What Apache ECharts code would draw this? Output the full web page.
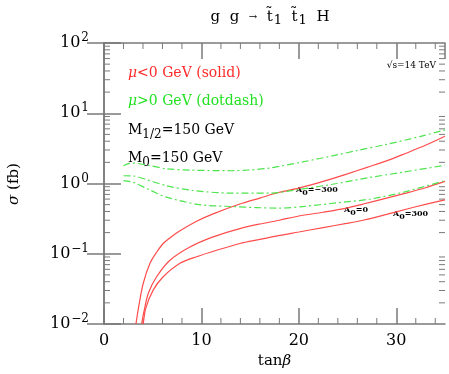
<!DOCTYPE html>
<html lang="en">
<head>
  <meta charset="UTF-8">
  <title>gg -> stop stop H</title>
  <style>
    html, body { margin: 0; padding: 0; background: #fff; }
    .chart { width: 449px; height: 374px; }
  </style>
</head>
<body>
  <div class="chart"></div>
  <script src="https://cdn.jsdelivr.net/npm/echarts@6/dist/echarts.min.js"></script>
  <script>
    // mu < 0 (solid, red), A0 = -300 / 0 / 300
    let tanbRedA = [3.28, 3.6, 4.03, 4.72, 5.4, 6.08, 7.0, 7.8, 9.5, 11.2, 13.95, 16, 18, 20, 22.5, 24.9, 27, 29, 31, 33, 35];
    let sigRedA = [0.01, 0.019, 0.038, 0.073, 0.105, 0.14, 0.178, 0.212, 0.29, 0.37, 0.51, 0.62, 0.75, 0.86, 1.07, 1.36, 1.7, 2.1, 2.7, 3.5, 4.7];
    let tanbRedB = [3.86, 4.1, 4.55, 5.4, 6.77, 8.82, 11.2, 13.95, 16, 18, 20, 22.5, 24.9, 26.6, 29, 31, 33, 35];
    let sigRedB = [0.01, 0.015, 0.0274, 0.047, 0.081, 0.125, 0.174, 0.228, 0.265, 0.30, 0.345, 0.39, 0.446, 0.51, 0.62, 0.73, 0.87, 1.07];
    let tanbRedC = [4.03, 4.3, 5.06, 6.08, 7.8, 9.5, 11.55, 13.95, 16, 18.05, 20, 22.5, 24.9, 26.6, 29, 31, 33, 35];
    let sigRedC = [0.01, 0.017, 0.0306, 0.047, 0.073, 0.0906, 0.112, 0.14, 0.16, 0.183, 0.204, 0.236, 0.27, 0.30, 0.363, 0.43, 0.505, 0.585];

    // mu > 0 (dotdash, green)
    let tanbGrnA = [2, 2.5, 3, 4.5, 6.4, 9, 13, 15, 17, 20.4, 23.9, 26, 29, 32.4, 35];
    let sigGrnA = [1.79, 1.92, 1.95, 1.82, 1.62, 1.55, 1.52, 1.56, 1.66, 2.03, 2.55, 2.95, 3.61, 4.65, 5.8];
    let tanbGrnB = [2, 3, 4.5, 6.4, 9, 13, 17, 20.4, 23.9, 27.3, 30.7, 35];
    let sigGrnB = [1.29, 1.28, 1.12, 0.93, 0.80, 0.73, 0.73, 0.84, 1.0, 1.22, 1.45, 1.82];
    let tanbGrnC = [2, 3, 4.7, 6.4, 9.8, 13.2, 18, 20.4, 23.9, 27.3, 30.7, 35];
    let sigGrnC = [1.10, 1.04, 0.81, 0.64, 0.50, 0.47, 0.446, 0.47, 0.53, 0.60, 0.75, 1.10];

    let xMinorTicks = [2, 4, 6, 8, 12, 14, 16, 18, 22, 24, 26, 28, 32, 34];
    let yMinorTicks = [];
    [0.01, 0.1, 1, 10].forEach(d => {
      for (let k = 2; k <= 9; k++) yMinorTicks.push(+(d * k).toPrecision(3));
    });

    const SERIF = '"DejaVu Serif", serif';
    const RED = '#ff4c4c';
    const GREEN = '#4ee44e';
    const AXIS = '#7a7a7a';

    let myChart = echarts.init(document.querySelector('.chart'));

    function pairs(xs, ys) {
      return xs.map((x, i) => [x, ys[i]]);
    }

    function curve(xs, ys, color, dotdash) {
      return {
        type: 'line',
        data: pairs(xs, ys),
        showSymbol: false,
        smooth: 0.3,
        silent: true,
        lineStyle: { color: color, width: 1.2, type: dotdash ? [7, 3, 2, 3] : 'solid' }
      };
    }

    let tickLine = (x1, y1, x2, y2) => ({
      type: 'line',
      shape: { x1, y1, x2, y2 },
      style: { stroke: AXIS, lineWidth: 1 }
    });

    let option = {
      animation: false,
      grid: { left: 104, right: 4, top: 43, bottom: 48 },
      xAxis: [
        {
          type: 'value', min: 0, max: 35, interval: 10,
          axisLine: { lineStyle: { color: AXIS, width: 1.5 } },
          axisTick: { inside: true, length: 16, lineStyle: { color: AXIS, width: 1.5 } },
          axisLabel: { showMaxLabel: false, margin: 9, color: '#000', fontFamily: SERIF, fontSize: 16 },
          splitLine: { show: false },
          name: '{n|tan}{i|β}', nameLocation: 'middle', nameGap: 30,
          nameTextStyle: {
            rich: {
              n: { fontFamily: SERIF, fontSize: 15, color: '#000' },
              i: { fontFamily: SERIF, fontSize: 15, fontStyle: 'italic', color: '#000' }
            }
          }
        },
        {
          type: 'value', min: 0, max: 35, interval: 10, position: 'top',
          axisLine: { lineStyle: { color: AXIS, width: 1.5 } },
          axisTick: { inside: true, length: 16, lineStyle: { color: AXIS, width: 1.5 } },
          axisLabel: { show: false },
          splitLine: { show: false }
        }
      ],
      yAxis: [
        {
          type: 'log', logBase: 10, min: 0.01, max: 100,
          axisLine: { lineStyle: { color: AXIS, width: 1.5 } },
          axisTick: { inside: true, length: 17, lineStyle: { color: AXIS, width: 1.5 } },
          splitLine: { show: false },
          axisLabel: {
            margin: 15, color: '#000',
            formatter: v => '{b|10}{s|' + String(Math.round(Math.log10(v))).replace('-', '−') + '}',
            rich: {
              b: { fontFamily: SERIF, fontSize: 16, color: '#000' },
              s: { fontFamily: SERIF, fontSize: 12, color: '#000', padding: [0, 0, 10, 1] }
            }
          }
        },
        {
          type: 'log', logBase: 10, min: 0.01, max: 100, position: 'right',
          axisLine: { lineStyle: { color: AXIS, width: 1.5 } },
          axisTick: { inside: true, length: 17, lineStyle: { color: AXIS, width: 1.5 } },
          axisLabel: { show: false },
          splitLine: { show: false }
        }
      ],
      graphic: [
        {
          type: 'text', x: 270, y: 17,
          style: {
            text: '{n|g  g  }{a|→}{n|  t̃}{s|1}{n|  t̃}{s|1}{n|  H}',
            textAlign: 'center', textVerticalAlign: 'middle',
            rich: {
              n: { fontFamily: SERIF, fontSize: 15, fill: '#000' },
              a: { fontFamily: SERIF, fontSize: 10, fill: '#000' },
              s: { fontFamily: SERIF, fontSize: 13, fill: '#000', padding: [8, 0, 0, 1] }
            }
          }
        },
        {
          type: 'text', x: 14, y: 184, rotation: Math.PI / 2,
          style: {
            text: '{i|σ}{n| (fb)}', textAlign: 'center', textVerticalAlign: 'middle',
            rich: {
              i: { fontFamily: SERIF, fontSize: 15, fontStyle: 'italic', fill: '#000' },
              n: { fontFamily: SERIF, fontSize: 15, fill: '#000' }
            }
          }
        },
        {
          type: 'text', x: 128, y: 73,
          style: {
            text: '{i|μ}{n|<0 GeV (solid)}', textVerticalAlign: 'middle',
            rich: {
              i: { fontFamily: SERIF, fontSize: 14, fontStyle: 'italic', fill: '#ff2a2a' },
              n: { fontFamily: SERIF, fontSize: 14, fill: '#ff2a2a' }
            }
          }
        },
        {
          type: 'text', x: 128, y: 101,
          style: {
            text: '{i|μ}{n|>0 GeV (dotdash)}', textVerticalAlign: 'middle',
            rich: {
              i: { fontFamily: SERIF, fontSize: 14, fontStyle: 'italic', fill: '#22e022' },
              n: { fontFamily: SERIF, fontSize: 14, fill: '#22e022' }
            }
          }
        },
        {
          type: 'text', x: 128, y: 130,
          style: {
            text: '{n|M}{s|1/2}{n|=150 GeV}', textVerticalAlign: 'middle',
            rich: {
              n: { fontFamily: SERIF, fontSize: 14, fill: '#000' },
              s: { fontFamily: SERIF, fontSize: 12, fill: '#000', padding: [9, 0, 0, 0] }
            }
          }
        },
        {
          type: 'text', x: 128, y: 158,
          style: {
            text: '{n|M}{s|0}{n|=150 GeV}', textVerticalAlign: 'middle',
            rich: {
              n: { fontFamily: SERIF, fontSize: 14, fill: '#000' },
              s: { fontFamily: SERIF, fontSize: 12, fill: '#000', padding: [9, 0, 0, 0] }
            }
          }
        },
        {
          type: 'text', x: 436, y: 66,
          style: { text: '√s=14 TeV', font: '9px ' + SERIF, fill: '#000', textAlign: 'right', textVerticalAlign: 'middle' }
        },
        ...[['−300', 296, 190], ['0', 344, 210], ['300', 393, 214]].map(([a, x, y]) => ({
          type: 'text', x: x, y: y,
          style: {
            text: '{n|A}{s|0}{n|=' + a + '}', textVerticalAlign: 'middle',
            rich: {
              n: { fontFamily: SERIF, fontSize: 8, fontWeight: 'bold', fill: '#000' },
              s: { fontFamily: SERIF, fontSize: 8, fontWeight: 'bold', fill: '#000', padding: [5, 0, 0, 0] }
            }
          }
        }))
      ],
      series: [
        curve(tanbRedA, sigRedA, RED, false),
        curve(tanbRedB, sigRedB, RED, false),
        curve(tanbRedC, sigRedC, RED, false),
        curve(tanbGrnA, sigGrnA, GREEN, true),
        curve(tanbGrnB, sigGrnB, GREEN, true),
        curve(tanbGrnC, sigGrnC, GREEN, true),
        {
          // minor log ticks on left and right frame
          type: 'custom',
          silent: true,
          data: yMinorTicks.map(v => [0, v]),
          renderItem: function (params, api) {
            let v = api.value(1);
            let l = api.coord([0, v]);
            let r = api.coord([35, v]);
            return {
              type: 'group',
              children: [tickLine(l[0], l[1], l[0] + 6, l[1]), tickLine(r[0], r[1], r[0] - 6, r[1])]
            };
          }
        },
        {
          // minor ticks on bottom and top frame
          type: 'custom',
          silent: true,
          data: xMinorTicks.map(v => [v, 1]),
          renderItem: function (params, api) {
            let v = api.value(0);
            let b = api.coord([v, 0.01]);
            let t = api.coord([v, 100]);
            return {
              type: 'group',
              children: [tickLine(b[0], b[1], b[0], b[1] - 6), tickLine(t[0], t[1], t[0], t[1] + 6)]
            };
          }
        }
      ]
    };
    myChart.setOption(option);
  </script>
</body>
</html>
